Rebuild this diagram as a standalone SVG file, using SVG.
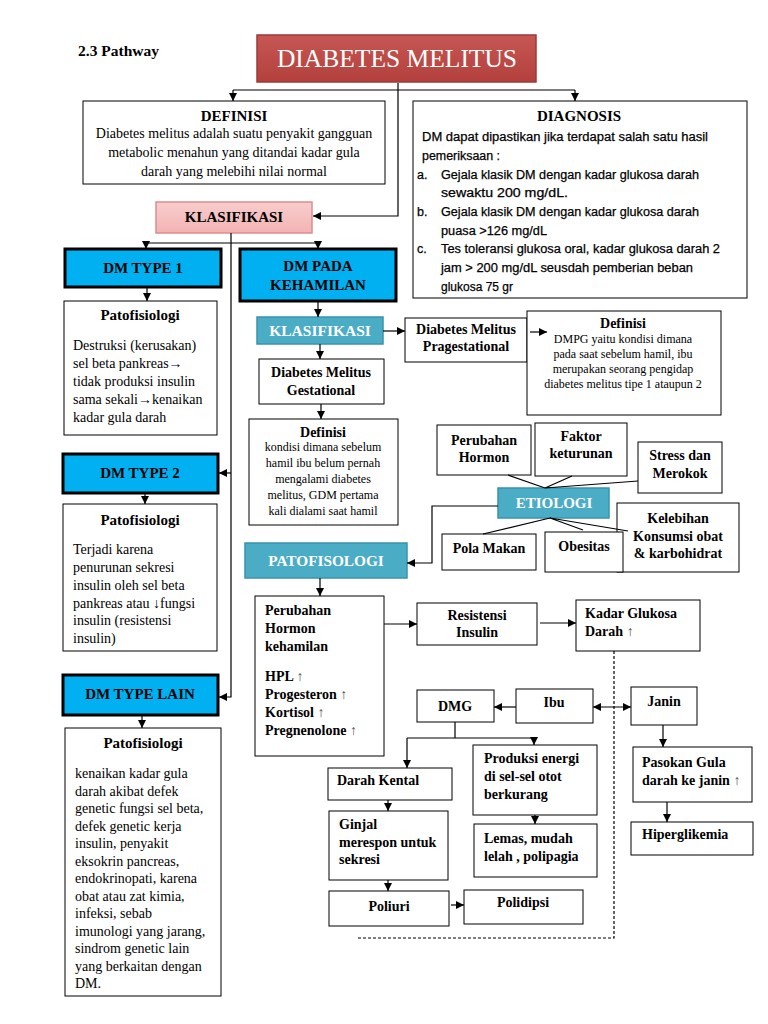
<svg xmlns="http://www.w3.org/2000/svg" width="768" height="1024" viewBox="0 0 768 1024">
<defs>
<linearGradient id="gRed" x1="0" y1="0" x2="0" y2="1"><stop offset="0" stop-color="#c65753"/><stop offset="1" stop-color="#b3403c"/></linearGradient>
<linearGradient id="gPink" x1="0" y1="0" x2="0" y2="1"><stop offset="0" stop-color="#f8cdcd"/><stop offset="1" stop-color="#f3b3b3"/></linearGradient>
<marker id="ar" markerUnits="userSpaceOnUse" markerWidth="8" markerHeight="8" viewBox="0 0 8 8" refX="8" refY="4" orient="auto"><path d="M0,0 L8,4 L0,8 z" fill="#000"/></marker>
<marker id="as" markerUnits="userSpaceOnUse" markerWidth="8" markerHeight="8" viewBox="0 0 8 8" refX="0" refY="4" orient="auto"><path d="M8,0 L0,4 L8,8 z" fill="#000"/></marker>
<style>
.bx{fill:#fff;stroke:#000;stroke-width:1}
.blue{fill:#00b0f0;stroke:#000;stroke-width:3}
.teal{fill:#4bacc6;stroke:#3a93ac;stroke-width:1.5}
.t{font-family:"Liberation Serif","Times New Roman",serif;font-size:14px;fill:#000}
.s{font-family:"Liberation Serif","Times New Roman",serif;font-size:12px;fill:#000}
.c{font-family:"Liberation Sans",Arial,sans-serif;font-size:12.5px;fill:#000;stroke:#000;stroke-width:0.25}
.b{font-weight:bold}
.h{font-size:15px}
.m{text-anchor:middle}
.w{fill:#fff}
.up{font-weight:normal;fill:#555}
.ln{fill:none;stroke:#000;stroke-width:1.2}
.ar{marker-end:url(#ar)}
</style>
</defs>

<text class="t b" x="78" y="56" style="font-size:15.5px">2.3 Pathway</text>

<g id="n-dm">
<rect x="257" y="35" width="279" height="47" fill="url(#gRed)" stroke="#9b3b38" stroke-width="1.5"/>
<text class="t m w" x="397" y="67" style="font-size:25.5px">DIABETES MELITUS</text>
</g>

<g id="n-definisi">
<rect class="bx" x="83" y="101" width="302" height="83"/>
<text class="t b m h" x="234" y="121">DEFINISI</text>
<text class="t m" x="234" y="138">Diabetes melitus adalah suatu penyakit gangguan</text>
<text class="t m" x="234" y="157">metabolic menahun yang ditandai kadar gula</text>
<text class="t m" x="234" y="176">darah yang melebihi nilai normal</text>
</g>

<g id="n-diagnosis">
<rect class="bx" x="413" y="101" width="334" height="197"/>
<text class="t b m h" x="579" y="121">DIAGNOSIS</text>
<text class="c" x="422" y="141" textLength="286" lengthAdjust="spacingAndGlyphs">DM dapat dipastikan jika terdapat salah satu hasil</text>
<text class="c" x="422" y="160" textLength="78" lengthAdjust="spacingAndGlyphs">pemeriksaan :</text>
<text class="c" x="417" y="179">a.</text>
<text class="c" x="441" y="179" textLength="258" lengthAdjust="spacingAndGlyphs">Gejala klasik DM dengan kadar glukosa darah</text>
<text class="c" x="441" y="197" textLength="127" lengthAdjust="spacingAndGlyphs">sewaktu 200 mg/dL.</text>
<text class="c" x="417" y="216">b.</text>
<text class="c" x="441" y="216" textLength="258" lengthAdjust="spacingAndGlyphs">Gejala klasik DM dengan kadar glukosa darah</text>
<text class="c" x="441" y="235" textLength="106" lengthAdjust="spacingAndGlyphs">puasa &gt;126 mg/dL</text>
<text class="c" x="417" y="253">c.</text>
<text class="c" x="441" y="253" textLength="279" lengthAdjust="spacingAndGlyphs">Tes toleransi glukosa oral, kadar glukosa darah 2</text>
<text class="c" x="441" y="272" textLength="252" lengthAdjust="spacingAndGlyphs">jam &gt; 200 mg/dL seusdah pemberian beban</text>
<text class="c" x="441" y="291" textLength="72" lengthAdjust="spacingAndGlyphs">glukosa 75 gr</text>
</g>

<g id="n-klasifikasi">
<rect x="156" y="202" width="156" height="31" fill="url(#gPink)" stroke="#d98f8d" stroke-width="1.5"/>
<text class="t b m h" x="234" y="222">KLASIFIKASI</text>
</g>

<g id="n-type1">
<rect class="blue" x="65" y="249" width="156" height="38"/>
<text class="t b m h" x="143" y="273">DM TYPE 1</text>
</g>

<g id="n-pato1">
<rect class="bx" x="64" y="301" width="153" height="134"/>
<text class="t b m h" x="140" y="320">Patofisiologi</text>
<text class="t" x="73" y="350">Destruksi (kerusakan)</text>
<text class="t" x="73" y="368">sel beta pankreas→</text>
<text class="t" x="73" y="386">tidak produksi insulin</text>
<text class="t" x="73" y="404">sama sekali→kenaikan</text>
<text class="t" x="73" y="422">kadar gula darah</text>
</g>

<g id="n-type2">
<rect class="blue" x="63" y="454" width="155" height="39"/>
<text class="t b m h" x="140" y="478">DM TYPE 2</text>
</g>

<g id="n-pato2">
<rect class="bx" x="63" y="504" width="154" height="147"/>
<text class="t b m h" x="140" y="525">Patofisiologi</text>
<text class="t" x="73" y="554">Terjadi karena</text>
<text class="t" x="73" y="572">penurunan sekresi</text>
<text class="t" x="73" y="590">insulin oleh sel beta</text>
<text class="t" x="73" y="608">pankreas atau ↓fungsi</text>
<text class="t" x="73" y="625">insulin (resistensi</text>
<text class="t" x="73" y="643">insulin)</text>
</g>

<g id="n-typelain">
<rect class="blue" x="63" y="675" width="155" height="40"/>
<text class="t b m h" x="140" y="699">DM TYPE LAIN</text>
</g>

<g id="n-pato3">
<rect class="bx" x="65" y="728" width="156" height="268"/>
<text class="t b m h" x="143" y="748">Patofisiologi</text>
<text class="t" x="75" y="778">kenaikan kadar gula</text>
<text class="t" x="75" y="795.5">darah akibat defek</text>
<text class="t" x="75" y="813">genetic fungsi sel beta,</text>
<text class="t" x="75" y="830.5">defek genetic kerja</text>
<text class="t" x="75" y="848">insulin, penyakit</text>
<text class="t" x="75" y="865.5">eksokrin pancreas,</text>
<text class="t" x="75" y="883">endokrinopati, karena</text>
<text class="t" x="75" y="900.5">obat atau zat kimia,</text>
<text class="t" x="75" y="918">infeksi, sebab</text>
<text class="t" x="75" y="935.5">imunologi yang jarang,</text>
<text class="t" x="75" y="953">sindrom genetic lain</text>
<text class="t" x="75" y="970.5">yang berkaitan dengan</text>
<text class="t" x="75" y="988">DM.</text>
</g>

<g id="n-kehamilan">
<rect class="blue" x="240" y="249" width="156" height="52"/>
<text class="t b m h" x="318" y="271">DM PADA</text>
<text class="t b m h" x="318" y="290">KEHAMILAN</text>
</g>

<g id="n-klas2">
<rect class="teal" x="257" y="317" width="126" height="27"/>
<text class="t b m w" x="320" y="336" style="font-size:15.5px">KLASIFIKASI</text>
</g>

<g id="n-gestational">
<rect class="bx" x="259" y="359" width="125" height="45"/>
<text class="t b m" x="321" y="377">Diabetes Melitus</text>
<text class="t b m" x="321" y="395">Gestational</text>
</g>

<g id="n-def-gest">
<rect class="bx" x="249" y="419" width="149" height="106"/>
<text class="t b m" x="323" y="437">Definisi</text>
<text class="s m" x="323" y="451">kondisi dimana sebelum</text>
<text class="s m" x="323" y="467">hamil ibu belum pernah</text>
<text class="s m" x="323" y="483">mengalami diabetes</text>
<text class="s m" x="323" y="499">melitus, GDM pertama</text>
<text class="s m" x="323" y="515">kali dialami saat hamil</text>
</g>

<g id="n-pragest">
<rect class="bx" x="405" y="318" width="122" height="44"/>
<text class="t b m" x="466" y="334">Diabetes Melitus</text>
<text class="t b m" x="466" y="351">Pragestational</text>
</g>

<g id="n-def-pragest">
<rect class="bx" x="527" y="311" width="194" height="104"/>
<text class="t b m" x="623" y="328">Definisi</text>
<text class="s m" x="623" y="343">DMPG yaitu kondisi dimana</text>
<text class="s m" x="623" y="358">pada saat sebelum hamil, ibu</text>
<text class="s m" x="623" y="373">merupakan seorang pengidap</text>
<text class="s m" x="623" y="388">diabetes melitus tipe 1 ataupun 2</text>
</g>

<g id="n-hormon">
<rect class="bx" x="437" y="425" width="94" height="50"/>
<text class="t b m" x="484" y="445">Perubahan</text>
<text class="t b m" x="484" y="462">Hormon</text>
</g>

<g id="n-faktor">
<rect class="bx" x="535" y="423" width="92" height="53"/>
<text class="t b m" x="581" y="441">Faktor</text>
<text class="t b m" x="581" y="458">keturunan</text>
</g>

<g id="n-stress">
<rect class="bx" x="638" y="442" width="84" height="51"/>
<text class="t b m" x="680" y="460">Stress dan</text>
<text class="t b m" x="680" y="478">Merokok</text>
</g>

<g id="n-etiologi">
<rect class="teal" x="498" y="488" width="111" height="30"/>
<text class="t b m w h" x="554" y="508">ETIOLOGI</text>
</g>

<g id="n-pola">
<rect class="bx" x="442" y="534" width="94" height="36"/>
<text class="t b m" x="489" y="553">Pola Makan</text>
</g>

<g id="n-kelebihan">
<rect class="bx" x="617" y="503" width="122" height="69"/>
<text class="t b m" x="678" y="523">Kelebihan</text>
<text class="t b m" x="678" y="541">Konsumsi obat</text>
<text class="t b m" x="678" y="558">&amp; karbohidrat</text>
</g>

<g id="n-obesitas">
<rect class="bx" x="545" y="532" width="78" height="40"/>
<text class="t b m" x="584" y="551">Obesitas</text>
</g>

<g id="n-patofisologi">
<rect class="teal" x="245" y="543" width="162" height="35"/>
<text class="t b m w" x="326" y="566" style="font-size:15.3px">PATOFISOLOGI</text>
</g>

<g id="n-perubahan">
<rect class="bx" x="255" y="596" width="129" height="160"/>
<text class="t b" x="265" y="615">Perubahan</text>
<text class="t b" x="265" y="633">Hormon</text>
<text class="t b" x="265" y="651">kehamilan</text>
<text class="t b" x="265" y="681">HPL <tspan class="up">↑</tspan></text>
<text class="t b" x="265" y="699">Progesteron <tspan class="up">↑</tspan></text>
<text class="t b" x="265" y="717">Kortisol <tspan class="up">↑</tspan></text>
<text class="t b" x="265" y="735">Pregnenolone <tspan class="up">↑</tspan></text>
</g>

<g id="n-resistensi">
<rect class="bx" x="417" y="603" width="120" height="42"/>
<text class="t b m" x="477" y="620">Resistensi</text>
<text class="t b m" x="477" y="637">Insulin</text>
</g>

<g id="n-kadar">
<rect class="bx" x="576" y="600" width="124" height="51"/>
<text class="t b" x="585" y="618">Kadar Glukosa</text>
<text class="t b" x="585" y="636">Darah <tspan class="up">↑</tspan></text>
</g>

<g id="n-dmg">
<rect class="bx" x="417" y="690" width="77" height="32"/>
<text class="t b m" x="455" y="711">DMG</text>
</g>

<g id="n-ibu">
<rect class="bx" x="516" y="689" width="77" height="34"/>
<text class="t b m" x="554" y="707">Ibu</text>
</g>

<g id="n-janin">
<rect class="bx" x="631" y="687" width="66" height="38"/>
<text class="t b m" x="664" y="706">Janin</text>
</g>

<g id="n-pasokan">
<rect class="bx" x="633" y="747" width="119" height="55"/>
<text class="t b" x="642" y="767">Pasokan Gula</text>
<text class="t b" x="642" y="785">darah ke janin <tspan class="up">↑</tspan></text>
</g>

<g id="n-hiper">
<rect class="bx" x="631" y="822" width="122" height="33"/>
<text class="t b" x="642" y="839">Hiperglikemia</text>
</g>

<g id="n-darah">
<rect class="bx" x="328" y="768" width="124" height="32"/>
<text class="t b" x="337" y="785">Darah Kental</text>
</g>

<g id="n-ginjal">
<rect class="bx" x="329" y="811" width="119" height="69"/>
<text class="t b" x="339" y="829">Ginjal</text>
<text class="t b" x="339" y="847">merespon untuk</text>
<text class="t b" x="339" y="864">sekresi</text>
</g>

<g id="n-poliuri">
<rect class="bx" x="329" y="891" width="120" height="35"/>
<text class="t b m" x="389" y="911">Poliuri</text>
</g>

<g id="n-polidipsi">
<rect class="bx" x="464" y="890" width="119" height="34"/>
<text class="t b m" x="523" y="907">Polidipsi</text>
</g>

<g id="n-produksi">
<rect class="bx" x="473" y="745" width="124" height="70"/>
<text class="t b" x="484" y="763">Produksi energi</text>
<text class="t b" x="484" y="781">di sel-sel otot</text>
<text class="t b" x="484" y="799">berkurang</text>
</g>

<g id="n-lemas">
<rect class="bx" x="474" y="824" width="123" height="53"/>
<text class="t b" x="484" y="843">Lemas, mudah</text>
<text class="t b" x="484" y="861">lelah , polipagia</text>
</g>

<g id="connectors">
<path class="ln ar" d="M398,83 V216 H313"/>
<path class="ln" d="M233,90 H575"/>
<path class="ln ar" d="M233,90 V101"/>
<path class="ln ar" d="M575,90 V101"/>
<path class="ln ar" d="M231,233 V697 H219"/>
<path class="ln ar" d="M231,473 H219"/>
<path class="ln" d="M146,243 H318"/>
<path class="ln ar" d="M146,243 V249"/>
<path class="ln ar" d="M318,243 V249"/>
<path class="ln ar" d="M147,288 V301"/>
<path class="ln ar" d="M145,494 V504"/>
<path class="ln ar" d="M142,716 V728"/>
<path class="ln ar" d="M318,302 V317"/>
<path class="ln ar" d="M383,331 H405"/>
<path class="ln ar" d="M320,344 V359"/>
<path class="ln ar" d="M321,404 V419"/>
<path class="ln ar" d="M530,332 H547"/>
<path class="ln" d="M508,475 L545,488 M572,476 L545,488 M638,481 L545,488"/>
<path class="ln" d="M550,518 L483,534 M550,518 L583,530 M550,518 L628,531"/>
<path class="ln ar" d="M498,506 H432 V563 H407"/>
<path class="ln ar" d="M320,578 V596"/>
<path class="ln ar" d="M384,624 H417"/>
<path class="ln ar" d="M540,623 H576"/>
<path class="ln" d="M614,651 V938 H357" stroke-dasharray="3,2"/>
<path class="ln ar" d="M516,707 H494"/>
<path class="ln ar" d="M593,707 H631" marker-start="url(#as)"/>
<path class="ln ar" d="M663,725 V747"/>
<path class="ln ar" d="M667,802 V822"/>
<path class="ln" d="M455,722 V738 M407,738 H534"/>
<path class="ln ar" d="M407,738 V768"/>
<path class="ln ar" d="M534,738 V745"/>
<path class="ln ar" d="M388,800 V811"/>
<path class="ln ar" d="M388,880 V891"/>
<path class="ln ar" d="M535,815 V824"/>
<path class="ln ar" d="M451,905 H464"/>
</g>
</svg>
